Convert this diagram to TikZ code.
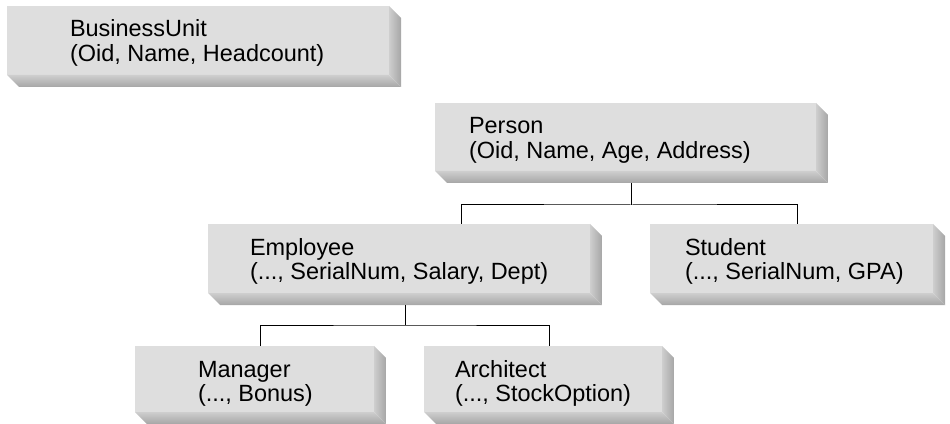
\documentclass[tikz,border=0pt]{standalone}
\usepackage{fontspec}
\setmainfont{Liberation Sans}
\usetikzlibrary{calc}
\definecolor{facegray}{HTML}{DEDEDE}
\definecolor{bevlight}{HTML}{CECECE}
\definecolor{bevdark}{HTML}{A6A6A6}
\newcommand\boxtext[2]{\begin{tabular}[t]{@{}l@{}}#1\\#2\end{tabular}}
\tikzset{
  bevbox/.style={rectangle, inner sep=0pt, outer sep=0pt,
    path picture={
      \coordinate (bnw) at (path picture bounding box.north west);
      \coordinate (bse) at (path picture bounding box.south east);
      \fill[facegray] (bnw) rectangle ([shift={(-9pt,9pt)}]bse);
      \shade[left color=bevlight, right color=bevdark]
        ([xshift=-9pt]bnw -| bse) -- ([yshift=-9pt]bnw -| bse) -- (bse)
        -- ([shift={(-9pt,9pt)}]bse) -- cycle;
      \shade[top color=bevlight, bottom color=bevdark]
        ([yshift=9pt]bnw |- bse) -- ([shift={(-9pt,9pt)}]bse) -- (bse)
        -- ([xshift=9pt]bnw |- bse) -- cycle;
    }},
  lbl/.style={anchor=base west, inner sep=0pt, outer sep=0pt,
    font=\fontsize{17.6pt}{18pt}\selectfont},
  conn/.style={draw=black, line width=0.75pt},
}
\begin{document}
\begin{tikzpicture}[x=0.75pt,y=-0.75pt]
\useasboundingbox (0,0) rectangle (950,424);
% boxes (face + bevel)
\node[bevbox, anchor=north west, minimum width=295.5pt, minimum height=60.75pt] (bu) at (7,6) {};
\node[bevbox, anchor=north west, minimum width=294.75pt, minimum height=60pt] (person) at (435,103) {};
\node[bevbox, anchor=north west, minimum width=295.5pt, minimum height=60.75pt] (employee) at (208,224) {};
\node[bevbox, anchor=north west, minimum width=221.25pt, minimum height=60.75pt] (student) at (650,224) {};
\node[bevbox, anchor=north west, minimum width=188.25pt, minimum height=58.5pt] (manager) at (135,346) {};
\node[bevbox, anchor=north west, minimum width=187.5pt, minimum height=58.5pt] (architect) at (424,346) {};
% texts
\node[lbl] (bu-t) at (70,37) {\boxtext{BusinessUnit}{(Oid, Name, Headcount)}};
\node[lbl] (person-t) at (469,134) {\boxtext{Person}{(Oid, Name, Age, Address)}};
\node[lbl] (employee-t) at (250,255) {\boxtext{Employee}{(..., SerialNum, Salary, Dept)}};
\node[lbl] (student-t) at (685,255) {\boxtext{Student}{(..., SerialNum, GPA)}};
\node[lbl] (manager-t) at (198,377) {\boxtext{Manager}{(..., Bonus)}};
\node[lbl] (architect-t) at (455,377) {\boxtext{Architect}{(..., StockOption)}};
% connectors
\coordinate (pj) at ($(person.south)+(0,22)$);
\coordinate (empin) at ($(employee.north)+(56,0)$);
\draw[conn] (person.south) -- (pj);
\draw[conn] (empin) |- (pj) -| (student.north);
\coordinate (ej) at ($(employee.south)+(0,20)$);
\draw[conn] (employee.south) -- (ej);
\draw[conn] (manager.north) |- (ej) -| (architect.north);
\end{tikzpicture}
\end{document}
